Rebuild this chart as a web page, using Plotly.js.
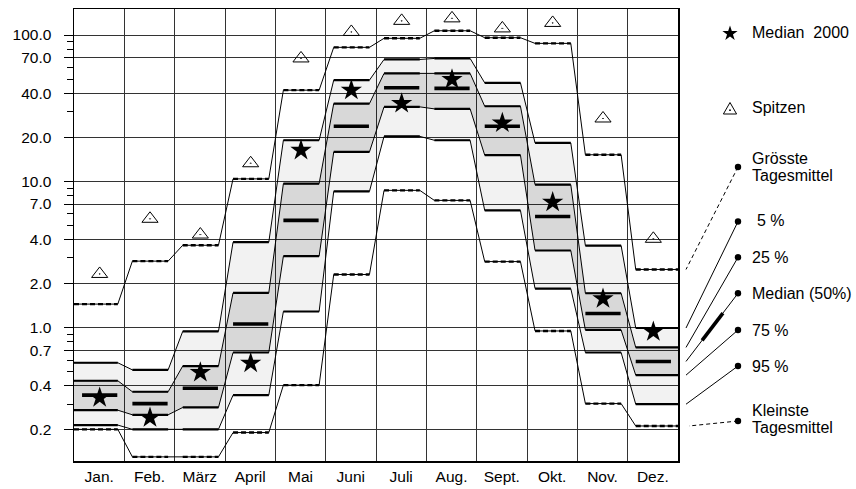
<!DOCTYPE html>
<html><head><meta charset="utf-8">
<script src="https://cdn.plot.ly/plotly-3.0.1.min.js"></script>
<style>html,body{margin:0;padding:0;background:#fff}#chart{width:856px;height:489px}</style>
</head><body><div id="chart"></div>
<script>
// ---- data ----
const months = ["Jan.","Feb.","März","April","Mai","Juni","Juli","Aug.","Sept.","Okt.","Nov.","Dez."];
const maxDaily   = [1.45,2.85,3.66,10.4,42,82.4,95,107,95.9,87.7,15.2,2.5];
const p5         = [0.576,0.515,0.944,3.84,19.1,49.2,68.1,69.2,47.1,18.3,3.64,0.995];
const p25        = [0.434,0.365,0.547,1.73,9.64,34.0,54.7,54.7,32.6,9.49,1.72,0.733];
const median     = [0.346,0.303,0.386,1.06,5.41,23.8,43.6,43.2,23.8,5.76,1.25,0.588];
const p75        = [0.273,0.254,0.285,0.677,3.08,15.9,32.3,31.3,15.1,3.37,0.965,0.474];
const p95        = [0.216,0.202,0.202,0.346,1.29,8.54,20.3,19.1,6.33,1.85,0.677,0.300];
const minDaily   = [0.202,0.131,0.131,0.192,0.405,2.31,8.68,7.41,2.83,0.95,0.303,0.213];
const median2000 = [0.333,0.243,0.494,0.573,16.3,42.0,34.1,49.7,25.1,7.21,1.58,0.94];
const peaks      = [2.33,5.55,4.33,13.3,69.2,105,125,130,111,121,26.9,4.05];
const yTickVals  = [0.2,0.4,0.7,1,2,4,7,10,20,40,70,100];
const yTickText  = ["0.2","0.4","0.7","1.0","2.0","4.0","7.0","10.0","20.0","40.0","70.0","100.0"];
const yMinorVals = [0.3,0.5,0.6,0.8,0.9,3,5,6,8,9,30,50,60,80,90];

// ---- geometry ----
const N = months.length, S0 = 0.16, S1 = 0.87;
const yr = [-0.911, 2.178];
const FONT = "Liberation Sans, Arial, Helvetica, sans-serif";
const KEYFONT = 16;
const L = 74, R = 678, T = 9, B = 461;
const px = x => (x - L) / (R - L);
const py = y => (B - y) / (B - T);
const yv = v => (Math.log10(v) - yr[0]) / (yr[1] - yr[0]);

function stepPath(vals){
  const x=[],y=[];
  vals.forEach((v,i)=>{ x.push(i===0?0:i+S0, i===N-1?N:i+S1); y.push(v,v); });
  return {x,y};
}
function segs(vals, full, a, b){
  const x=[],y=[];
  vals.forEach((v,i)=>{ x.push(full&&i===0?0:i+a, full&&i===N-1?N:i+b, null); y.push(v,v,null); });
  return {x,y};
}
const thin = {color:'#000', width:1};
function pathTrace(vals, fill, fillcolor){
  const p = stepPath(vals);
  return {x:p.x, y:p.y, type:'scatter', mode:'lines', line:thin, fill:fill||'none', fillcolor:fillcolor, hoverinfo:'skip', showlegend:false};
}
function segTrace(vals, width, dash, full, a, b){
  const s = segs(vals, full, a, b);
  return {x:s.x, y:s.y, type:'scatter', mode:'lines', line:{color:'#000', width:width, dash:dash||'solid'}, hoverinfo:'skip', showlegend:false};
}
const starMarker = {symbol:'star', size:16, color:'#000', line:{width:0}};
const triMarker = {symbol:'triangle-up-open-dot', size:14, color:'#000', line:{width:1, color:'#000'}};

const traces = [
  pathTrace(p95),
  pathTrace(p5, 'tonexty', 'rgba(0,0,0,0.05)'),
  pathTrace(p75),
  pathTrace(p25, 'tonexty', 'rgba(0,0,0,0.105)'),
  pathTrace(maxDaily),
  pathTrace(minDaily),
  segTrace(p5, 2.2, null, true, S0, S1),
  segTrace(p25, 2.2, null, true, S0, S1),
  segTrace(p75, 2.2, null, true, S0, S1),
  segTrace(p95, 2.2, null, true, S0, S1),
  segTrace(maxDaily, 2.4, '5px,3px', true, S0, S1),
  segTrace(minDaily, 2.4, '5px,3px', true, S0, S1),
  segTrace(median, 3.6, null, false, 0.16, 0.86),
  {x: months.map((_,i)=>i+0.51), y: median2000, type:'scatter', mode:'markers',
   marker:starMarker, hoverinfo:'skip', showlegend:false},
  {x: months.map((_,i)=>i+0.51), y: peaks, type:'scatter', mode:'markers',
   marker:triMarker, hoverinfo:'skip', showlegend:false}
];

// ---- right-hand key ----
const shapes = [], annotations = [];
function polyPath(pts){ return 'M' + pts.map(p=>px(p[0])+','+py(p[1])).join('L') + 'Z'; }
// key star
(function(){
  const cx=730, cy=33.5, Ro=8, Ri=3.1, pts=[];
  for (let k=0;k<10;k++){ const a=(-90+k*36)*Math.PI/180, r=k%2?Ri:Ro; pts.push([cx+r*Math.cos(a), cy+r*Math.sin(a)]); }
  shapes.push({type:'path', xref:'paper', yref:'paper', path:polyPath(pts), fillcolor:'#000', line:{width:0}});
})();
// key triangle with dot
(function(){
  const cx=730, cy=109.5;
  shapes.push({type:'path', xref:'paper', yref:'paper', path:polyPath([[cx,cy-7],[cx+6.6,cy+4.5],[cx-6.6,cy+4.5]]),
    fillcolor:'rgba(0,0,0,0)', line:{color:'#000', width:1}});
  shapes.push({type:'circle', xref:'paper', yref:'paper', x0:px(cx-0.9), x1:px(cx+0.9), y0:py(cy+1.6), y1:py(cy-0.2),
    fillcolor:'#000', line:{width:0}});
})();

const keyRows = [
  {vals:maxDaily, dot:167, dash:'dash', endX:686, lines:[["Grösste",158],["Tagesmittel",175]], tx:751},
  {vals:p5,       dot:221.5, dash:'solid', endX:686, lines:[["5 %",221]], tx:756},
  {vals:p25,      dot:257.3, dash:'solid', endX:686, lines:[["25 %",257]], tx:751},
  {vals:median,   dot:293.3, dash:'solid', endX:686, lines:[["Median (50%)",293]], tx:751, thick:true},
  {vals:p75,      dot:330, dash:'solid', endX:686, lines:[["75 %",330]], tx:751},
  {vals:p95,      dot:366, dash:'solid', endX:686, lines:[["95 %",366]], tx:751},
  {vals:minDaily, dot:421, dash:'dash', endX:689, lines:[["Kleinste",410],["Tagesmittel",427]], tx:751}
];
const DOTX = 738;
keyRows.forEach(r=>{
  const x0 = px(DOTX), y0 = py(r.dot), x1 = px(r.endX), y1 = yv(r.vals[N-1]);
  shapes.push({type:'line', xref:'paper', yref:'paper', x0:x0, y0:y0, x1:x1, y1:y1,
    line:{color:'#000', width:1, dash:r.dash==='dash'?'4px,3px':'solid'}});
  if (r.thick){
    const t0=0.29, t1=0.69;
    shapes.push({type:'line', xref:'paper', yref:'paper',
      x0:x0+(x1-x0)*t0, y0:y0+(y1-y0)*t0, x1:x0+(x1-x0)*t1, y1:y0+(y1-y0)*t1,
      line:{color:'#000', width:3.6}});
  }
  shapes.push({type:'circle', xref:'paper', yref:'paper', x0:px(DOTX-3.2), x1:px(DOTX+3.2),
    y0:py(r.dot+3.2), y1:py(r.dot-3.2), fillcolor:'#000', line:{color:'#000', width:0}});
  r.lines.forEach(([t,y])=>{
    annotations.push({xref:'paper', yref:'paper', x:px(r.tx), y:py(y), xanchor:'left', yanchor:'middle',
      text:t, showarrow:false, font:{family:FONT, size:KEYFONT, color:'#000'}, borderpad:0});
  });
});
annotations.push({xref:'paper', yref:'paper', x:px(751), y:py(33), xanchor:'left', yanchor:'middle',
  text:'Median  2000', showarrow:false, font:{family:FONT, size:KEYFONT, color:'#000'}, borderpad:0});
annotations.push({xref:'paper', yref:'paper', x:px(751), y:py(108), xanchor:'left', yanchor:'middle',
  text:'Spitzen', showarrow:false, font:{family:FONT, size:KEYFONT, color:'#000'}, borderpad:0});

const layout = {
  width:856, height:489,
  margin:{l:L, r:856-R, t:T, b:489-B, pad:0},
  paper_bgcolor:'#fff', plot_bgcolor:'#fff',
  font:{family:FONT, size:15, color:'#000'},
  showlegend:false,
  xaxis:{range:[0,N], tickmode:'array', tickvals:months.map((_,i)=>i+0.5), ticktext:months,
    ticks:'', showgrid:false, zeroline:false, showline:true, mirror:true, linecolor:'#000', linewidth:1.5,
    minor:{tickmode:'array', tickvals:months.map((_,i)=>i).concat([N]), showgrid:true, gridcolor:'#333', gridwidth:1, ticks:''},
    tickfont:{family:FONT, size:15.5, color:'#000'}, ticklabelstandoff:1, fixedrange:true},
  yaxis:{type:'log', range:yr, tickmode:'array', tickvals:yTickVals, ticktext:yTickText,
    ticks:'outside', ticklen:9, tickwidth:1, tickcolor:'#000',
    showgrid:true, gridcolor:'#333', gridwidth:1, zeroline:false,
    showline:true, mirror:true, linecolor:'#000', linewidth:1.5,
    minor:{tickmode:'array', tickvals:yMinorVals, ticks:'outside', ticklen:6, tickwidth:1, tickcolor:'#000', showgrid:false},
    tickfont:{family:FONT, size:15.5, color:'#000'}, ticklabelstandoff:9, fixedrange:true},
  shapes:shapes, annotations:annotations
};
Plotly.newPlot('chart', traces, layout, {staticPlot:true, displayModeBar:false});
</script></body></html>
